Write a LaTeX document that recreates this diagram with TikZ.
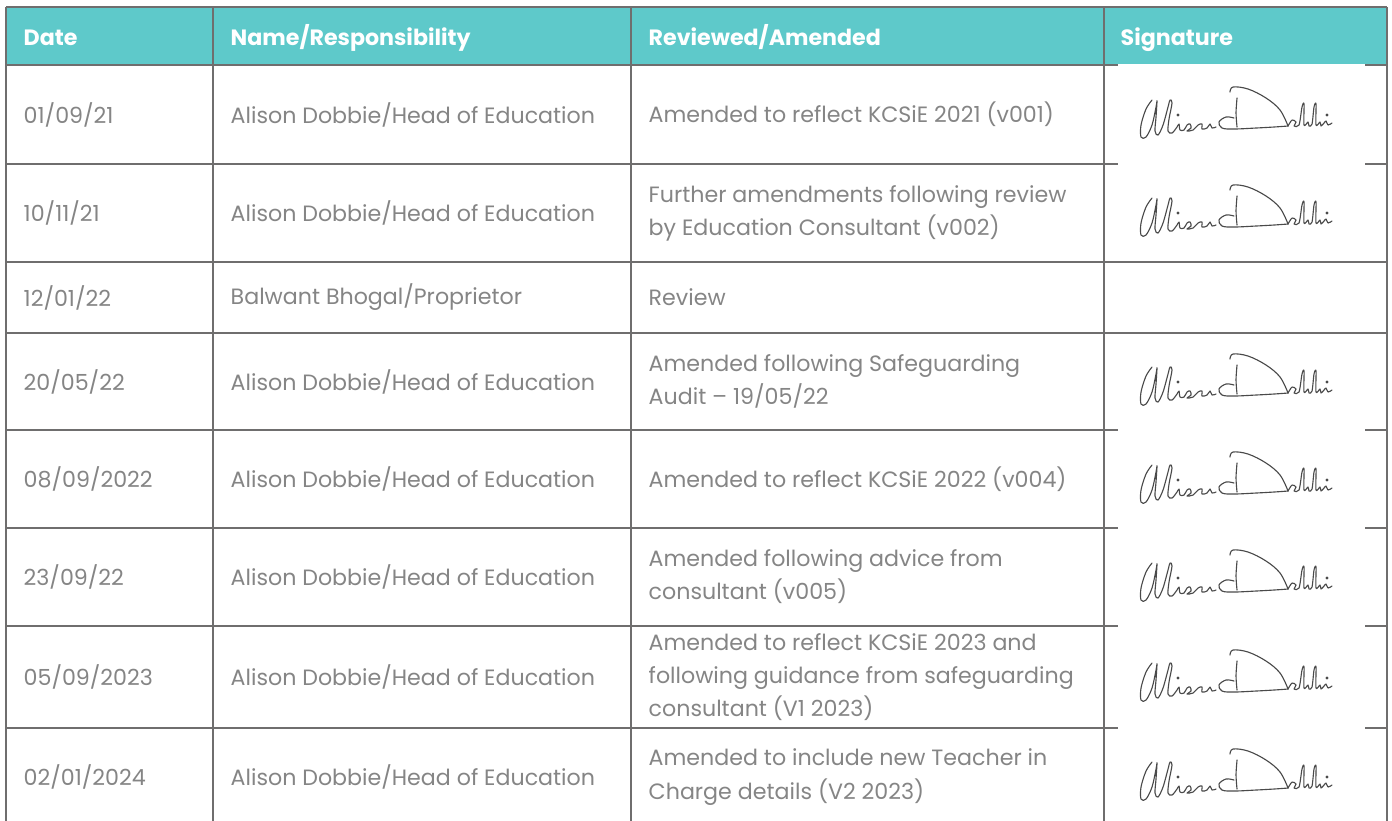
\documentclass[tikz,border=0pt]{standalone}
\usepackage{fontspec}
\setmainfont{Poppins}
\definecolor{headteal}{HTML}{5EC9CA}
\definecolor{rulegray}{HTML}{6F6E6E}
\definecolor{textgray}{HTML}{858585}
\definecolor{sigink}{HTML}{4A4A4A}

\tikzset{
  signature/.pic={
    \begin{scope}[sigink, line width=0.32pt, line cap=round, line join=round]
      % Alison
      \draw plot[smooth, tension=0.55] coordinates {(-84,-13) (-90,-4) (-95,12) (-95,24) (-90,24) (-84,12) (-80,-6) (-79,-12) (-80,4) (-81,18) (-78,22) (-73,12) (-68,-6) (-66,-13) (-64,-10) (-67,6) (-68,18) (-64,20) (-59,14) (-57,11) (-56,17) (-52,17) (-49,12) (-46,11) (-45,15) (-49,18) (-43,17) (-38,12) (-34,11) (-34,16) (-29,15) (-26,11) (-24,15) (-20,14)};
      \fill (-58,2) circle[radius=0.45pt];
      % D
      \draw plot[smooth, tension=0.6] coordinates {(-2,5) (-10,4) (-17,9) (-14,15) (-2,16) (20,15) (38,14) (52,13)};
      \draw plot[smooth] coordinates {(1,-15) (0,0) (1,14)};
      \draw plot[smooth, tension=0.6] coordinates {(-6,-21) (-3,-26) (12,-24) (30,-15) (44,-3) (52,13)};
      % obbie
      \draw plot[smooth, tension=0.5] coordinates {(52,13) (56,7) (60,9) (58,13) (63,12) (66,-6) (68,-9) (68,12) (72,9) (73,13) (76,11) (78,-6) (80,-9) (80,12) (84,9) (85,13) (88,10) (90,8) (92,12) (96,10)};
      \fill (91,2) circle[radius=0.45pt];
    \end{scope}
  }
}

\begin{document}
\begin{tikzpicture}[x=0.01cm, y=-0.01cm,
    cell/.style={anchor=west, inner sep=0pt, text=textgray, align=left,
      font=\fontsize{6.3}{9.4}\selectfont},
    headcell/.style={anchor=west, inner sep=0pt, text=white,
      text height=1.6ex, text depth=0.4ex,
      font=\fontsize{6.3}{8}\selectfont\bfseries},
    rule/.style={draw=rulegray, line width=0.65pt}]
  \useasboundingbox (0,0) rectangle (1392,820);
  \fill[white] (0,0) rectangle (1392,820);
  \fill[headteal] (6,7) rectangle (1387,65);

  % grid
  \draw[rule] (6,7) -- (1387,7);
  \foreach \y in {65,164,262,333,430,528,626,728}
    \draw[rule] (6,\y) -- (1387,\y);
  \foreach \x in {6,213,631,1104,1387}
    \draw[rule] (\x,7) -- (\x,824);

  % signature scans sit over the rules
  \fill[white] (1118,64) rectangle (1365,258);
  \fill[white] (1118,333.6) rectangle (1365,824);

  % header
  \node[headcell] (h1) at (23,34)   {Date};
  \node[headcell] (h2) at (230,34)  {Name/Responsibility};
  \node[headcell] (h3) at (648,34)  {Reviewed/Amended};
  \node[headcell] (h4) at (1120,34) {Signature};

  % dates
  \node[cell] (d1) at (23,114.5) {01/09/21};
  \node[cell] (d2) at (23,213)   {10/11/21};
  \node[cell] (d3) at (23,297.5) {12/01/22};
  \node[cell] (d4) at (23,381.5) {20/05/22};
  \node[cell] (d5) at (23,479)   {08/09/2022};
  \node[cell] (d6) at (23,577)   {23/09/22};
  \node[cell] (d7) at (23,677)   {05/09/2023};
  \node[cell] (d8) at (23,777)   {02/01/2024};

  % names
  \node[cell] (n1) at (230,114.5) {Alison Dobbie/Head of Education};
  \node[cell] (n2) at (230,213)   {Alison Dobbie/Head of Education};
  \node[cell] (n3) at (230,297.5) {Balwant Bhogal/Proprietor};
  \node[cell] (n4) at (230,381.5) {Alison Dobbie/Head of Education};
  \node[cell] (n5) at (230,479)   {Alison Dobbie/Head of Education};
  \node[cell] (n6) at (230,577)   {Alison Dobbie/Head of Education};
  \node[cell] (n7) at (230,677)   {Alison Dobbie/Head of Education};
  \node[cell] (n8) at (230,777)   {Alison Dobbie/Head of Education};

  % changes
  \node[cell] (a1) at (648,114.5) {Amended to reflect KCSiE 2021 (v001)};
  \node[cell] (a2) at (648,213)   {Further amendments following review\\by Education Consultant (v002)};
  \node[cell] (a3) at (648,297.5) {Review};
  \node[cell] (a4) at (648,381.5) {Amended following Safeguarding\\Audit -- 19/05/22};
  \node[cell] (a5) at (648,479)   {Amended to reflect KCSiE 2022 (v004)};
  \node[cell] (a6) at (648,577)   {Amended following advice from\\consultant (v005)};
  \node[cell] (a7) at (648,677)   {Amended to reflect KCSiE 2023 and\\following guidance from safeguarding\\consultant (V1 2023)};
  \node[cell] (a8) at (648,777)   {Amended to include new Teacher in\\Charge details (V2 2023)};

  % signatures
  \pic (s1) at (1236,113) {signature};
  \pic (s2) at (1236,211) {signature};
  \pic (s4) at (1236,380) {signature};
  \pic (s5) at (1236,478) {signature};
  \pic (s6) at (1236,576) {signature};
  \pic (s7) at (1236,676) {signature};
  \pic (s8) at (1236,775) {signature};
\end{tikzpicture}
\end{document}
